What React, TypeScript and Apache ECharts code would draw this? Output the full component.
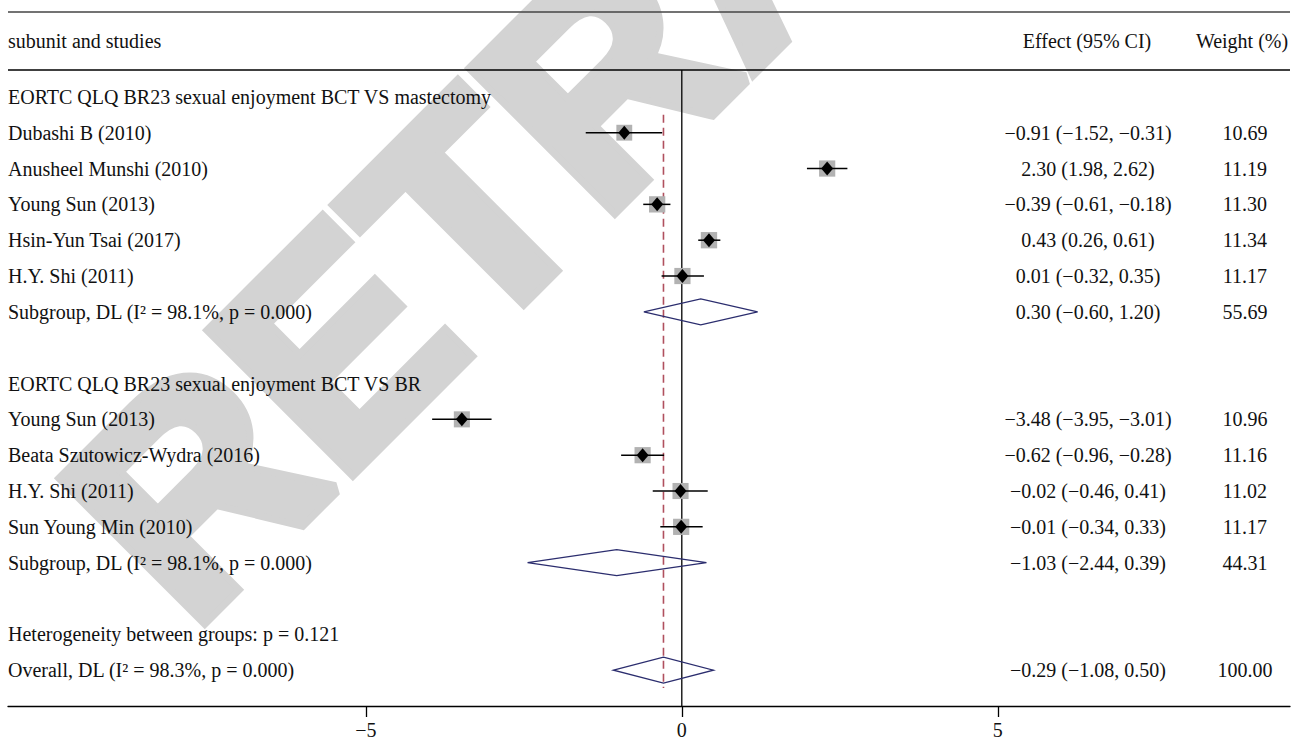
import React, { useEffect, useRef } from 'react';
import * as echarts from 'echarts';

const rowLabels = [
  'EORTC QLQ BR23 sexual enjoyment BCT VS mastectomy',
  'Dubashi B (2010)',
  'Anusheel Munshi (2010)',
  'Young Sun (2013)',
  'Hsin-Yun Tsai (2017)',
  'H.Y. Shi (2011)',
  'Subgroup, DL (I² = 98.1%, p = 0.000)',
  '',
  'EORTC QLQ BR23 sexual enjoyment BCT VS BR',
  'Young Sun (2013)',
  'Beata Szutowicz-Wydra (2016)',
  'H.Y. Shi (2011)',
  'Sun Young Min (2010)',
  'Subgroup, DL (I² = 98.1%, p = 0.000)',
  '',
  'Heterogeneity between groups: p = 0.121',
  'Overall, DL (I² = 98.3%, p = 0.000)',
];

const studyRows = [1, 2, 3, 4, 5, 9, 10, 11, 12];
const studyEst = [-0.91, 2.3, -0.39, 0.43, 0.01, -3.48, -0.62, -0.02, -0.01];
const studyLo = [-1.52, 1.98, -0.61, 0.26, -0.32, -3.95, -0.96, -0.46, -0.34];
const studyHi = [-0.31, 2.62, -0.18, 0.61, 0.35, -3.01, -0.28, 0.41, 0.33];
const studyWeight = [10.69, 11.19, 11.3, 11.34, 11.17, 10.96, 11.16, 11.02, 11.17];

const pooledRows = [6, 13, 16];
const pooledEst = [0.3, -1.03, -0.29];
const pooledLo = [-0.6, -2.44, -1.08];
const pooledHi = [1.2, 0.39, 0.5];
const pooledWeight = [55.69, 44.31, 100.0];

const overallEst = -0.29;
const xTicks = [-5, 0, 5];
const headers = ['subunit and studies', 'Effect (95% CI)', 'Weight (%)'];
const watermark = 'RETRACTED';

const SERIF = '"Liberation Serif", "Times New Roman", serif';
const SANS = '"Liberation Sans", Arial, sans-serif';
const TXT = '#111';
const EFFECT_X = 1088;
const WEIGHT_X = 1245;
const LABEL_X = 8;

const fmt = (v: number) => (v < 0 ? '\u2212' : '') + Math.abs(v).toFixed(2);
const effectText = (e: number, l: number, h: number) => `${fmt(e)} (${fmt(l)}, ${fmt(h)})`;

const txt = (text: string, x: number, y: number, align: string) => ({
  type: 'text',
  style: {
    text,
    x,
    y,
    fill: TXT,
    fontSize: 20,
    fontFamily: SERIF,
    align,
    textAlign: align,
    verticalAlign: 'middle',
    textVerticalAlign: 'middle',
  },
});

export default function App() {
  const ref = useRef<HTMLDivElement>(null);
  useEffect(() => {
    if (!ref.current) return;
    const chart = echarts.init(ref.current, null, { renderer: 'svg' });
    const option: any = {
      animation: false,
      backgroundColor: '#ffffff',
      grid: { left: 8, right: 8, top: 70, bottom: 40, containLabel: false },
      xAxis: {
        type: 'value',
        min: -10.661,
        max: 9.623,
        axisLine: { show: true, onZero: false, lineStyle: { color: '#000', width: 1.3 } },
        axisTick: { show: true, length: 11, customValues: xTicks, lineStyle: { color: '#000', width: 1.3 } },
        axisLabel: {
          show: true,
          customValues: xTicks,
          margin: 14,
          color: TXT,
          fontSize: 20,
          fontFamily: SERIF,
          formatter: (v: number) => (v < 0 ? '\u2212' + Math.abs(v) : String(v)),
        },
        splitLine: { show: false },
      },
      yAxis: {
        type: 'value',
        min: -0.75,
        max: 17,
        inverse: true,
        show: false,
        axisLine: { onZero: false },
        splitLine: { show: false },
      },
      graphic: [
        {
          type: 'text',
          x: 120,
          y: 562,
          rotation: Math.PI / 4,
          z: 0,
          silent: true,
          style: {
            text: watermark,
            fill: '#d3d3d3',
            stroke: '#d3d3d3',
            lineWidth: 14,
            fontSize: 290,
            fontWeight: 'bold',
            fontFamily: SANS,
            textAlign: 'left',
            align: 'left',
            textVerticalAlign: 'middle',
            verticalAlign: 'middle',
          },
        },
        { type: 'line', z: 5, shape: { x1: 8, y1: 12, x2: 1290, y2: 12 }, style: { stroke: '#444', lineWidth: 1.4 } },
        { type: 'line', z: 5, shape: { x1: 8, y1: 70, x2: 1290, y2: 70 }, style: { stroke: '#000', lineWidth: 1.3 } },
        { ...txt(headers[0], LABEL_X, 41, 'left'), z: 5 },
        { ...txt(headers[1], 1087, 41, 'center'), z: 5 },
        { ...txt(headers[2], 1242, 41, 'center'), z: 5 },
      ],
      series: [
        {
          type: 'custom',
          name: 'refLines',
          clip: false,
          z: 3,
          data: [[0, 0]],
          renderItem: (params: any, api: any) => {
            const z0 = api.coord([0, -0.75]);
            const z1 = api.coord([0, 17]);
            const d0 = api.coord([overallEst, 0.5]);
            const d1 = api.coord([overallEst, 16.5]);
            return {
              type: 'group',
              children: [
                { type: 'line', shape: { x1: z0[0], y1: z0[1], x2: z1[0], y2: z1[1] }, style: { stroke: '#000', lineWidth: 1.3 } },
                {
                  type: 'line',
                  shape: { x1: d0[0], y1: d0[1], x2: d1[0], y2: d1[1] },
                  style: { stroke: '#b0505e', lineWidth: 1.6, lineDash: [8, 5] },
                },
              ],
            };
          },
        },
        {
          type: 'custom',
          name: 'labels',
          clip: false,
          z: 4,
          data: rowLabels.map((_, i) => [0, i]),
          renderItem: (params: any, api: any) => {
            const p = api.coord([0, api.value(1)]);
            return txt(rowLabels[params.dataIndex], LABEL_X, p[1], 'left');
          },
        },
        {
          type: 'custom',
          name: 'studies',
          clip: false,
          z: 4,
          data: studyRows.map((r, i) => [studyEst[i], r, studyLo[i], studyHi[i], studyWeight[i]]),
          renderItem: (params: any, api: any) => {
            const est = api.value(0);
            const row = api.value(1);
            const c = api.coord([est, row]);
            const lo = api.coord([api.value(2), row]);
            const hi = api.coord([api.value(3), row]);
            const w = api.value(4);
            const s = 4.85 * Math.sqrt(w);
            const i = params.dataIndex;
            return {
              type: 'group',
              children: [
                { type: 'rect', shape: { x: c[0] - s / 2, y: c[1] - s / 2, width: s, height: s }, style: { fill: '#b2b2b2' } },
                { type: 'line', shape: { x1: lo[0], y1: lo[1], x2: hi[0], y2: hi[1] }, style: { stroke: '#000', lineWidth: 1.5 } },
                {
                  type: 'polygon',
                  shape: { points: [[c[0] - 6, c[1]], [c[0], c[1] - 7], [c[0] + 6, c[1]], [c[0], c[1] + 7]] },
                  style: { fill: '#000' },
                },
                txt(effectText(studyEst[i], studyLo[i], studyHi[i]), EFFECT_X, c[1], 'center'),
                txt(studyWeight[i].toFixed(2), WEIGHT_X, c[1], 'center'),
              ],
            };
          },
        },
        {
          type: 'custom',
          name: 'pooled',
          clip: false,
          z: 4,
          data: pooledRows.map((r, i) => [pooledEst[i], r, pooledLo[i], pooledHi[i], pooledWeight[i]]),
          renderItem: (params: any, api: any) => {
            const row = api.value(1);
            const top = api.coord([api.value(0), row - 0.363]);
            const bot = api.coord([api.value(0), row + 0.363]);
            const lo = api.coord([api.value(2), row]);
            const hi = api.coord([api.value(3), row]);
            const i = params.dataIndex;
            return {
              type: 'group',
              children: [
                {
                  type: 'polygon',
                  shape: { points: [lo, top, hi, bot] },
                  style: { fill: 'none', stroke: '#2b2d6e', lineWidth: 1.3 },
                },
                txt(effectText(pooledEst[i], pooledLo[i], pooledHi[i]), EFFECT_X, lo[1], 'center'),
                txt(pooledWeight[i].toFixed(2), WEIGHT_X, lo[1], 'center'),
              ],
            };
          },
        },
      ],
    };
    chart.setOption(option);
    return () => chart.dispose();
  }, []);
  return (
    <div
      ref={ref}
      style={{ position: 'fixed', left: 0, top: 0, width: 1298, height: 746, background: '#fff' }}
    />
  );
}
